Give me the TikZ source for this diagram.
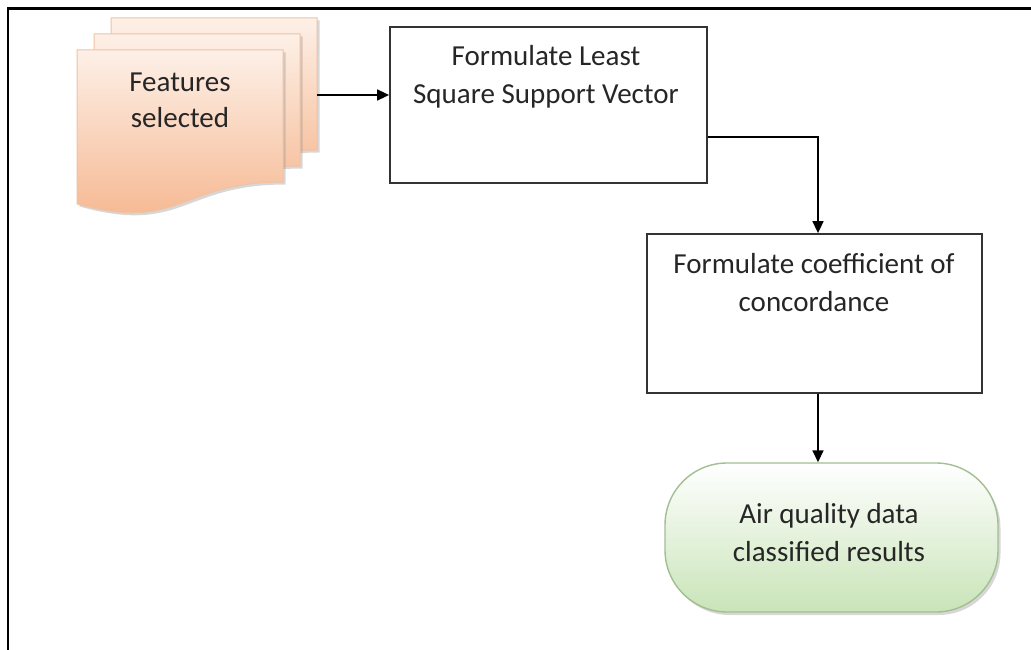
\documentclass[tikz,border=0pt]{standalone}
\usepackage{fontspec}
\setmainfont{Carlito}
\usetikzlibrary{arrows.meta,shadows}
\definecolor{txt}{HTML}{262626}
\definecolor{edge}{HTML}{333333}
\definecolor{peachtop}{HTML}{FDF0E7}
\definecolor{peachbot}{HTML}{F5B48C}
\definecolor{peachline}{HTML}{F0C2A4}
\definecolor{greenbot}{HTML}{C9E4B8}
\definecolor{greenline}{HTML}{A2BE92}
\tikzset{
  procbox/.style={draw=edge, line width=1.8pt, fill=white, rectangle, inner sep=0pt},
  lbl/.style={text=txt, align=center, inner sep=0pt, font=\fontsize{29}{38}\selectfont},
  docpage/.style={draw=peachline, line width=1pt, top color=peachtop, bottom color=peachbot,
     drop shadow={shadow xshift=2.5pt, shadow yshift=-2.5pt, opacity=0.35, fill=black!45}},
  termbox/.style={draw=greenline, line width=1.4pt, rounded corners=62pt, top color=white, bottom color=greenbot,
     drop shadow={shadow xshift=2.5pt, shadow yshift=-3pt, opacity=0.35, fill=black!45}, inner sep=0pt},
  arr/.style={draw=black, line width=1.7pt, -{Triangle[length=12pt,width=11pt]}}
}
\begin{document}
\begin{tikzpicture}[x=1pt,y=-1pt]
\useasboundingbox (0,0) rectangle (1031,650);
% frame
\draw[line width=2.6pt, black] (8,651) -- (8,8.5) -- (1032,8.5);
% document stack
\path[docpage] (111,18) -- (317,18) -- (317,150) .. controls (214,150) and (214,200.7) .. (111,172) -- cycle;
\path[docpage] (94,34) -- (300,34) -- (300,166) .. controls (197,166) and (197,216.7) .. (94,188) -- cycle;
\path[docpage] (77,50) -- (283,50) -- (283,182) .. controls (180,182) and (180,232.7) .. (77,204) -- cycle;
\node[lbl, font=\fontsize{29}{36}\selectfont] (feat) at (180,102.3) {\strut Features\\\strut selected};
\coordinate (featout) at (317,95);
% boxes
\node[procbox, minimum width=317pt, minimum height=156pt] (box1) at (548.5,105) {};
\node[lbl] (box1t) at (546,77.4) {\strut Formulate Least\\\strut Square Support Vector};
\node[procbox, minimum width=335pt, minimum height=159pt] (box2) at (814.5,313.5) {};
\node[lbl] (box2t) at (814,284.9) {\strut Formulate coefficient of\\\strut concordance};
\node[termbox, minimum width=333pt, minimum height=149pt] (term) at (831.5,537.5) {};
\node[lbl] (termt) at (829,534.9) {\strut Air quality data\\\strut classified results};
% connectors
\draw[arr] (featout) -- (featout -| box1.west);
\draw[arr] ([yshift=-32pt]box1.east) -| ([xshift=3.5pt]box2.north);
\draw[arr] ([xshift=3.5pt]box2.south) -- ([xshift=3.5pt]box2.south |- term.north);
\end{tikzpicture}
\end{document}
